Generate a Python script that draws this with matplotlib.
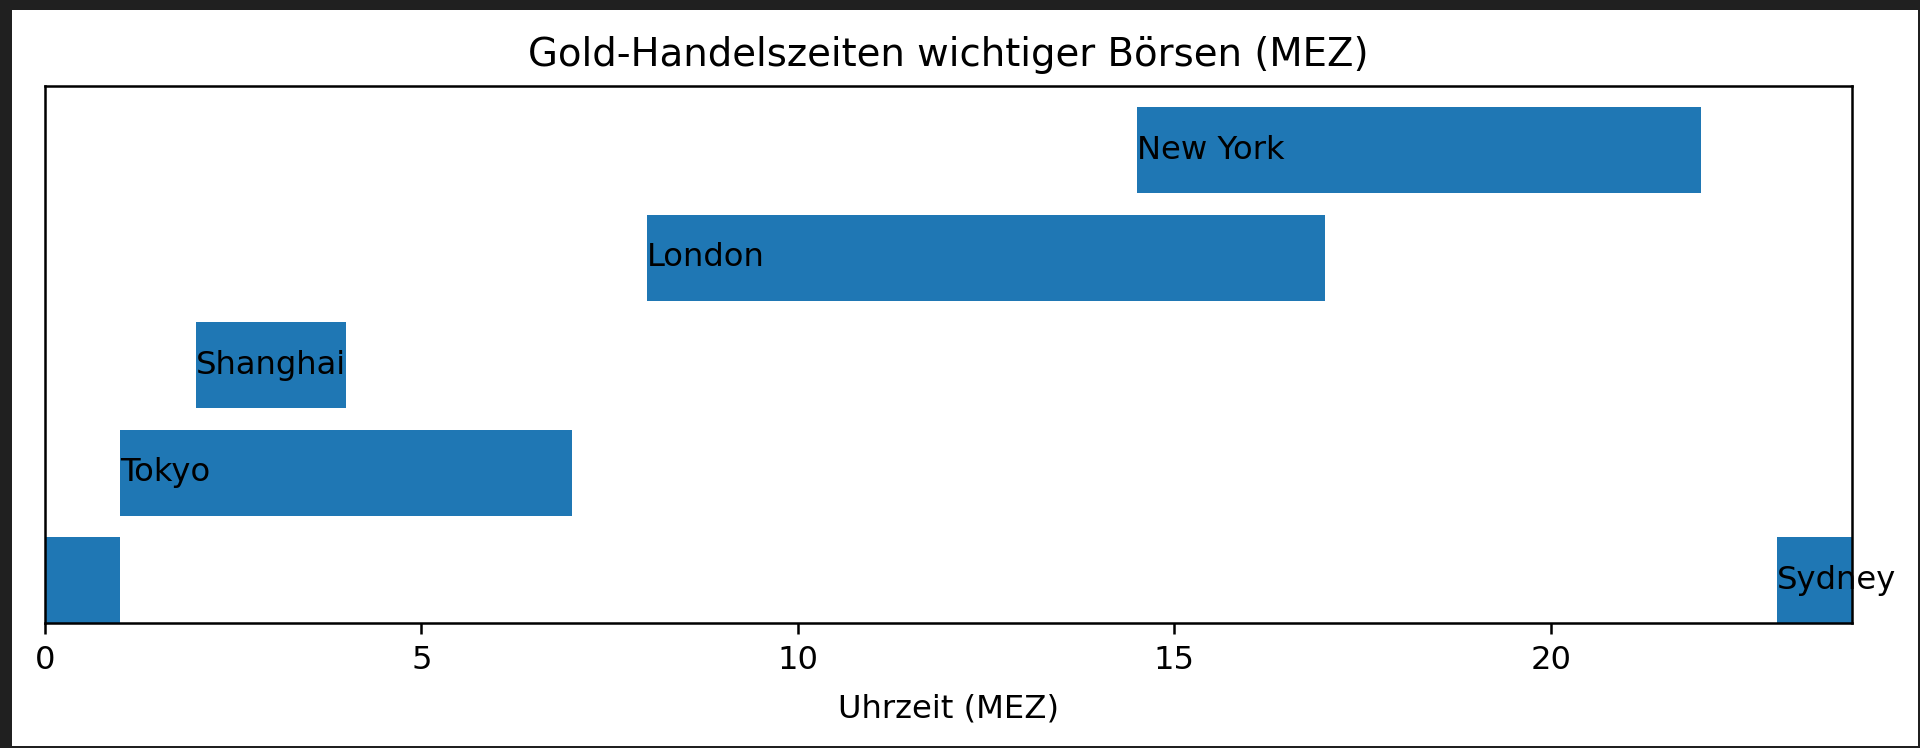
import matplotlib
matplotlib.use("Agg")
import matplotlib.pyplot as plt
from matplotlib.patches import Rectangle

exchanges = ["Sydney", "Tokyo", "Shanghai", "London", "New York"]
starts = [23.0, 1.0, 2.0, 8.0, 14.5]
ends = [24.0, 7.0, 4.0, 17.0, 22.0]
# Sydney session wraps past midnight: extra segment 0-1
wrap_start = [0.0]
wrap_end = [1.0]
xticks = [0, 5, 10, 15, 20]

S = 2.26   # line scale from original rendering
F = 2.32   # font scale
fig = plt.figure(figsize=(19.2, 7.48), dpi=100, facecolor="#202020")
fig.patches.append(Rectangle((12, 2), 1906, 736, transform=None,
                             facecolor="white", edgecolor="none", zorder=-10))
ax = fig.add_axes([45 / 1920, 125 / 748, 1807 / 1920, 537 / 748])

color = "#1f77b4"
ys = list(range(len(exchanges)))
ax.barh(ys, [e - s for s, e in zip(starts, ends)], left=starts,
        height=0.8, color=color)
ax.barh([0], [wrap_end[0] - wrap_start[0]], left=wrap_start, height=0.8, color=color)

for y, name, s in zip(ys, exchanges, starts):
    ax.text(s, y, name, va="center", ha="left", fontsize=10 * F, color="black")

ax.set_xlim(0, 24)
ax.set_ylim(-0.4, 4.6)
ax.set_yticks([])
ax.set_xticks(xticks)
ax.tick_params(axis="x", labelsize=10 * F, width=0.8 * S, length=3.5 * S, pad=3.5 * S)
for sp in ax.spines.values():
    sp.set_linewidth(0.8 * S)
ax.set_xlabel("Uhrzeit (MEZ)", fontsize=10 * F, labelpad=5.6 * S)
ax.set_title("Gold-Handelszeiten wichtiger Börsen (MEZ)", fontsize=12 * F, pad=6.3 * S)

fig.savefig("out.png", dpi=100, facecolor=fig.get_facecolor())
